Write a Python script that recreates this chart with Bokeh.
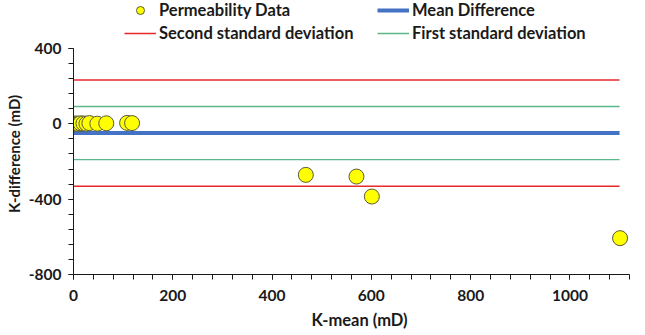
from bokeh.plotting import figure
from bokeh.models import Range1d, FixedTicker, Legend, LegendItem, ColumnDataSource
from bokeh.embed import file_html
from bokeh.resources import INLINE

# Permeability comparison: mean of two measurements vs. their difference
k_mean = [2, 6, 10, 14, 20, 26, 32, 48, 66, 108, 118, 468, 570, 601, 1101]
k_diff = [1, 2, 0, 3, 2, 1, 4, 1, 3, 5, 4, -271, -280, -386, -607]

mean_difference = -49
std_dev = 141
line_span = [0, 1100]

x_ticks = [0, 200, 400, 600, 800, 1000]
y_ticks = [-800, -400, 0, 400]
y_tick_labels = ["-800", "-400", "0", "400"]

FONT = "Lato"

# the vertical range runs past 400 to leave headroom for the key;
# the axis itself is bounded to -800..400
p = figure(width=645, height=335, output_backend="svg", toolbar_location=None,
           x_range=Range1d(0, 1120), y_range=Range1d(-800, 655),
           min_border_left=73, min_border_right=16, min_border_bottom=61, min_border_top=0)
p.grid.visible = False
p.outline_line_color = None

src = ColumnDataSource(dict(x=k_mean, y=k_diff))

def hline(level, color, width):
    return p.line(line_span, [level, level], line_color=color, line_width=width)

r_second_hi = hline(mean_difference + 2 * std_dev, "#e8282b", 1.6)
r_second_lo = hline(mean_difference - 2 * std_dev, "#e8282b", 1.6)
r_first_hi = hline(mean_difference + std_dev, "#5cb88a", 1.4)
r_first_lo = hline(mean_difference - std_dev, "#5cb88a", 1.4)
r_mean = hline(mean_difference, "#4472c4", 4)

r_pts = p.scatter("x", "y", source=src, size=15, fill_color="#ffff00",
                  line_color="#5a5a3a", line_width=1)

# two-column key at the top (filled column by column)
legend = Legend(items=[
    LegendItem(label="Permeability Data", renderers=[r_pts]),
    LegendItem(label="Second standard deviation", renderers=[r_second_hi]),
    LegendItem(label="Mean Difference", renderers=[r_mean]),
    LegendItem(label="First standard deviation", renderers=[r_first_hi]),
], ncols=2, location=(51, 231))
legend.label_text_font = FONT
legend.label_text_font_style = "bold"
legend.label_text_font_size = "16.5px"
legend.label_text_color = "#1a1a1a"
legend.label_standoff = 3
legend.glyph_width = 32
legend.glyph_height = 20
legend.label_height = 20
legend.label_width = 215
legend.spacing = 3
legend.padding = 0
legend.margin = 0
legend.border_line_color = None
legend.background_fill_alpha = 0
p.add_layout(legend)

for ax in (p.xaxis, p.yaxis):
    ax.axis_line_color = "#1a1a1a"
    ax.axis_line_width = 1
    ax.major_tick_line_color = "#1a1a1a"
    ax.minor_tick_line_color = "#1a1a1a"
    ax.major_tick_out = 5
    ax.major_tick_in = 0
    ax.minor_tick_out = 5
    ax.minor_tick_in = 0
    ax.major_label_text_font = FONT
    ax.major_label_text_font_style = "bold"
    ax.major_label_text_font_size = "15.5px"
    ax.major_label_text_color = "#1a1a1a"
    ax.axis_label_text_font = FONT
    ax.axis_label_text_font_style = "bold"
    ax.axis_label_text_font_size = "16.5px"
    ax.axis_label_text_color = "#1a1a1a"

p.yaxis.bounds = (-800, 400)
p.xaxis.ticker = FixedTicker(ticks=x_ticks, minor_ticks=list(range(0, 1121, 40)))
p.yaxis.ticker = FixedTicker(ticks=y_ticks, minor_ticks=list(range(-800, 401, 80)))
p.yaxis.major_label_overrides = dict(zip(y_ticks, y_tick_labels))
# no-break spaces nudge the titles off the plain frame centre
p.xaxis.axis_label = "\u00a0" * 4 + "K-mean (mD)"
p.yaxis.axis_label = "K-difference (mD)" + "\u00a0" * 9
p.yaxis.axis_label_text_font_size = "15px"
p.xaxis.major_label_standoff = 10
p.yaxis.major_label_standoff = 7
p.xaxis.axis_label_standoff = 6
p.yaxis.axis_label_standoff = 3

open("out.html", "w").write(file_html(p, INLINE))
